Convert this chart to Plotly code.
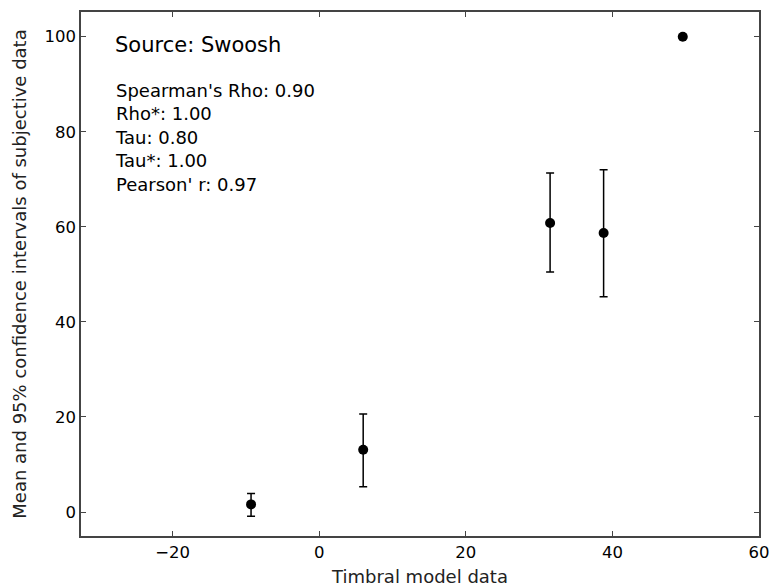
import plotly.graph_objects as go

x_vals = [-9.3, 6.0, 31.5, 38.8, 49.6]
y_mean = [1.6, 13.1, 60.8, 58.7, 100.0]
ci_upper = [3.9, 20.6, 71.3, 72.0, 100.0]
ci_lower = [-0.9, 5.3, 50.5, 45.3, 100.0]

err_plus = [u - m for u, m in zip(ci_upper, y_mean)]
err_minus = [m - l for m, l in zip(y_mean, ci_lower)]

source_text = "Source: Swoosh"
stats_lines = ["Spearman's Rho: 0.90", "Rho*: 1.00", "Tau: 0.80", "Tau*: 1.00", "Pearson' r: 0.97"]

FONT = "DejaVu Sans"
fig = go.Figure()
fig.add_trace(go.Scatter(
    x=x_vals, y=y_mean, mode="markers",
    marker=dict(color="black", size=10),
    error_y=dict(type="data", symmetric=False, array=err_plus, arrayminus=err_minus,
                 color="black", thickness=1.5, width=4),
    showlegend=False,
))

axis_common = dict(
    showgrid=False, zeroline=False, showline=True, mirror="ticks",
    linecolor="#444444", linewidth=1.5, ticks="inside", ticklen=5,
    tickcolor="#444444", tickwidth=1, automargin=False,
    tickfont=dict(family=FONT, size=16.5, color="black"),
)
fig.update_xaxes(range=[-32.5, 60], tickvals=[-20, 0, 20, 40, 60],
                 ticktext=["\u221220", "0", "20", "40", "60"],
                 title=dict(text="Timbral model data", font=dict(family=FONT, size=18, color="#222"), standoff=10),
                 **axis_common)
fig.update_yaxes(range=[-5.05, 105.2], tickvals=[0, 20, 40, 60, 80, 100],
                 title=dict(text="Mean and 95% confidence intervals of subjective data",
                            font=dict(family=FONT, size=18, color="#222"), standoff=13),
                 **axis_common)

fig.add_annotation(xref="paper", yref="paper", x=(113 - 81) / 678, y=1 - (45 - 12) / 523.7,
                   text=source_text, showarrow=False, xanchor="left", yanchor="middle",
                   font=dict(family=FONT, size=21, color="black"))
fig.add_annotation(xref="paper", yref="paper", x=(113 - 81) / 678, y=1 - (78 - 12) / 523.7,
                   text="<br>".join(stats_lines), showarrow=False, xanchor="left", yanchor="top",
                   align="left", font=dict(family=FONT, size=18, color="black"))

fig.update_layout(
    width=770, height=588,
    margin=dict(l=81, r=11, t=12, b=52),
    plot_bgcolor="white", paper_bgcolor="white",
)
fig.write_html("out.html")
